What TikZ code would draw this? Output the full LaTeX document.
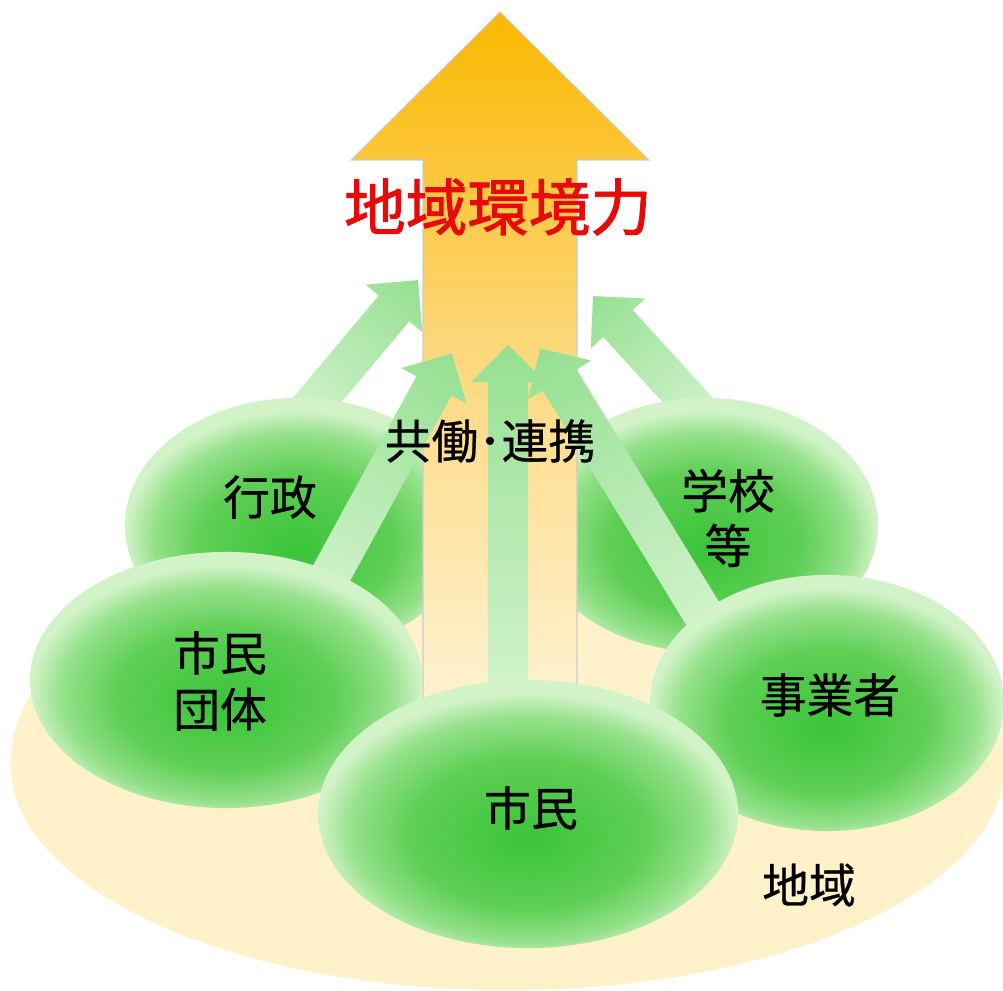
\documentclass[tikz,border=0pt]{standalone}
\usepackage{fontspec}
\setmainfont{Noto Sans CJK JP}
\newfontfamily\titlefont[FakeBold=1.5]{Noto Sans CJK JP}
\newfontfamily\actorfont[FakeBold=0.6]{Noto Sans CJK JP}
\usetikzlibrary{calc, shapes.geometric}

\definecolor{groundfill}{RGB}{255,242,202}
\definecolor{forcetop}{RGB}{250,184,0}
\definecolor{forcemid}{RGB}{253,216,125}
\definecolor{forcebot}{RGB}{255,242,210}
\definecolor{titlered}{RGB}{232,10,10}
\definecolor{coophead}{RGB}{150,224,146}
\definecolor{cooptail}{RGB}{214,244,208}
\definecolor{blobcore}{RGB}{58,195,58}
\definecolor{blobmid}{RGB}{95,207,85}
\definecolor{bloblight}{RGB}{150,225,140}
\definecolor{blobedge}{RGB}{210,243,200}

\pgfdeclareradialshading{blob}{\pgfpoint{0bp}{-5bp}}{%
  color(0bp)=(blobcore); color(14bp)=(blobmid); color(21bp)=(bloblight);
  color(25bp)=(blobedge); color(50bp)=(blobedge)}

% block arrow from #1 (tail) to #2 (tip)
\newcommand{\coopflow}[2]{%
  \path let \p1 = ($(#2)-(#1)$) in
    \pgfextra{\pgfmathsetmacro{\flowlen}{veclen(\x1,\y1)}%
              \pgfmathsetmacro{\flowang}{atan2(\y1,\x1)}%
              \global\let\flowlen\flowlen \global\let\flowang\flowang};
  \begin{scope}[transform canvas={shift={(#1)}, rotate=\flowang}]
    \shade[coop] (0pt,-0.2cm) -- ({\flowlen pt-0.37cm},-0.2cm)
      -- ({\flowlen pt-0.37cm},-0.37cm) -- (\flowlen pt,0pt)
      -- ({\flowlen pt-0.37cm},0.37cm) -- ({\flowlen pt-0.37cm},0.2cm)
      -- (0pt,0.2cm) -- cycle;
  \end{scope}}

\begin{document}
\begin{tikzpicture}[
        x=0.01cm, y=-0.01cm,
        actor/.style={
            ellipse,
            shade,
            shading=blob,
            inner sep=0pt
        },
        actortext/.style={
            font=\actorfont\fontsize{13.3}{16}\selectfont,
            align=center,
            inner sep=0pt
        },
        coop/.style={
            left color=cooptail,
            right color=coophead
        }
    ]
    \useasboundingbox (0,0) rectangle (1003,991);

    % Ground
    \fill[groundfill] (1005,764)
        arc[start angle=0, end angle=180, x radius=4.97cm, y radius=2.45cm]
        arc[start angle=180, end angle=360, x radius=4.97cm, y radius=2.26cm] -- cycle;

    % Tails and tips
    \coordinate (gyosei-tail) at (292,430);
    \coordinate (gyosei-tip) at (418,280);
    \coordinate (gakko-tail) at (715,430);
    \coordinate (gakko-tip) at (593,296);
    \coordinate (dantai-tail) at (306,620);
    \coordinate (dantai-tip) at (452,353);
    \coordinate (shimin-tail) at (508,720);
    \coordinate (shimin-tip) at (508,345);
    \coordinate (jigyo-tail) at (725,650);
    \coordinate (jigyo-tip) at (540,348);

    % Back row
    \coopflow{gyosei-tail}{gyosei-tip}
    \coopflow{gakko-tail}{gakko-tip}
    \node[actor, minimum width=3.46cm, minimum height=2.54cm] (gyosei) at (298,525) {};
    \node[actor, minimum width=3.46cm, minimum height=2.54cm] (gakko) at (705,525) {};

    % Big arrow
    \shade[top color=forcetop, bottom color=forcebot, middle color=forcemid,
        draw=black!20, line width=0.3pt]
        (500,12) -- (649,160) -- (577,160) -- (577,700)
        -- (423,700) -- (423,160) -- (351,160) -- cycle;

    % Front row
    \coopflow{dantai-tail}{dantai-tip}
    \coopflow{shimin-tail}{shimin-tip}
    \coopflow{jigyo-tail}{jigyo-tip}
    \node[actor, minimum width=3.92cm, minimum height=2.56cm] (dantai) at (226,680) {};
    \node[actor, minimum width=3.54cm, minimum height=2.56cm] (jigyo) at (827,703) {};
    \node[actor, minimum width=4.2cm, minimum height=2.68cm] (shimin) at (528,814) {};

    % Texts
    \node[font=\titlefont\fontsize{17.5}{20}\selectfont, text=titlered, inner sep=0pt] (force-t) at (498,207) {地域環境力};
    \node[actortext] (coop-t) at (490,441) {共働･連携};
    \node[actortext] (gyosei-t) at (270,497) {行政};
    \node[actortext, font=\actorfont\fontsize{13.3}{15.6}\selectfont] (gakko-t) at (728,518) {学校\\等};
    \node[actortext] (dantai-t) at (220,681) {市民\\団体};
    \node[actortext] (jigyo-t) at (830,695) {事業者};
    \node[actortext] (shimin-t) at (531,808) {市民};
    \node[actortext] (ground-t) at (809,885) {地域};

\end{tikzpicture}
\end{document}
